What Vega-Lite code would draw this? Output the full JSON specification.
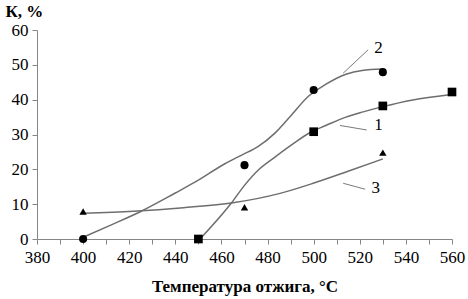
{
  "$schema": "https://vega.github.io/schema/vega-lite/v6.json",
  "width": 415,
  "height": 209,
  "autosize": "none",
  "padding": {"left": 37, "top": 30, "right": 16, "bottom": 60},
  "background": "white",
  "config": {
    "view": {"stroke": null},
    "font": "Liberation Serif",
    "axis": {"labelFont": "Liberation Serif", "titleFont": "Liberation Serif"},
    "text": {"font": "Liberation Serif"}
  },
  "datasets": {
    "points": [
      {"series": "1", "x": 450, "y": 0},
      {"series": "1", "x": 500, "y": 30.8},
      {"series": "1", "x": 530, "y": 38.2},
      {"series": "1", "x": 560, "y": 42.2},
      {"series": "2", "x": 400, "y": 0},
      {"series": "2", "x": 470, "y": 21.2},
      {"series": "2", "x": 500, "y": 42.8},
      {"series": "2", "x": 530, "y": 47.9},
      {"series": "3", "x": 400, "y": 7.9},
      {"series": "3", "x": 470, "y": 9.1},
      {"series": "3", "x": 530, "y": 24.8}
    ],
    "curves": [
      {"series": "1", "x": 451.4, "y": 0.5},
      {"series": "1", "x": 464.4, "y": 10.4},
      {"series": "1", "x": 470, "y": 15.4},
      {"series": "1", "x": 476, "y": 19.8},
      {"series": "1", "x": 483.2, "y": 23.5},
      {"series": "1", "x": 490.4, "y": 27},
      {"series": "1", "x": 499, "y": 30.8},
      {"series": "1", "x": 505, "y": 32.5},
      {"series": "1", "x": 514, "y": 35},
      {"series": "1", "x": 521.5, "y": 36.5},
      {"series": "1", "x": 530, "y": 38},
      {"series": "1", "x": 543, "y": 39.9},
      {"series": "1", "x": 559, "y": 41.4},
      {"series": "2", "x": 400, "y": 0.5},
      {"series": "2", "x": 412, "y": 4},
      {"series": "2", "x": 425, "y": 7.9},
      {"series": "2", "x": 440, "y": 13.2},
      {"series": "2", "x": 448.5, "y": 16.3},
      {"series": "2", "x": 461.5, "y": 21.6},
      {"series": "2", "x": 468.8, "y": 24.1},
      {"series": "2", "x": 476, "y": 26.6},
      {"series": "2", "x": 483.2, "y": 30.4},
      {"series": "2", "x": 490.4, "y": 35.6},
      {"series": "2", "x": 497.6, "y": 40.9},
      {"series": "2", "x": 505, "y": 44.3},
      {"series": "2", "x": 514, "y": 47.3},
      {"series": "2", "x": 521, "y": 48.4},
      {"series": "2", "x": 530, "y": 48.8},
      {"series": "3", "x": 400, "y": 7.4},
      {"series": "3", "x": 421.8, "y": 8},
      {"series": "3", "x": 443.5, "y": 9},
      {"series": "3", "x": 465, "y": 10.4},
      {"series": "3", "x": 485.4, "y": 13.1},
      {"series": "3", "x": 499.8, "y": 16},
      {"series": "3", "x": 514.3, "y": 19.3},
      {"series": "3", "x": 530, "y": 23}
    ],
    "leaders": [
      {"series": "1", "x": 511.4, "y": 32.6, "x2": 523, "y2": 31.3},
      {"series": "2", "x": 512.8, "y": 47.6, "x2": 523.6, "y2": 54.3},
      {"series": "3", "x": 512.8, "y": 16.0, "x2": 522.3, "y2": 14.3}
    ],
    "labels": [
      {"label": "1", "x": 528.1, "y": 32.8},
      {"label": "2", "x": 528.1, "y": 54.8},
      {"label": "3", "x": 526.9, "y": 14.6}
    ]
  },
  "encoding": {
    "x": {
      "field": "x",
      "type": "quantitative",
      "scale": {"domain": [380, 560], "nice": false, "zero": false},
      "axis": {
        "values": [380, 390, 400, 410, 420, 430, 440, 450, 460, 470, 480, 490, 500, 510, 520, 530, 540, 550, 560],
        "labelExpr": "datum.value % 20 === 0 ? datum.label : ''",
        "grid": false,
        "domainColor": "#868686",
        "tickColor": "#868686",
        "tickSize": 5,
        "labelFont": "Liberation Serif",
        "labelFontSize": 17,
        "labelColor": "black",
        "labelPadding": 5,
        "labelFlush": false,
        "labelOverlap": false,
        "title": "Температура отжига, °С",
        "titleFont": "Liberation Serif",
        "titleFontSize": 17,
        "titleFontWeight": "bold",
        "titleColor": "black",
        "titlePadding": 13
      }
    },
    "y": {
      "field": "y",
      "type": "quantitative",
      "scale": {"domain": [0, 60], "nice": false},
      "axis": {
        "values": [0, 10, 20, 30, 40, 50, 60],
        "grid": false,
        "domainColor": "#868686",
        "tickColor": "#868686",
        "tickSize": 5,
        "labelFont": "Liberation Serif",
        "labelFontSize": 17,
        "labelColor": "black",
        "labelPadding": 4,
        "labelFlush": false,
        "title": "К, %",
        "titleFont": "Liberation Serif",
        "titleFontSize": 17,
        "titleFontWeight": "bold",
        "titleColor": "black",
        "titleAngle": 0,
        "titleAlign": "left",
        "titleBaseline": "middle",
        "titleX": -32,
        "titleY": -19
      }
    }
  },
  "layer": [
    {
      "data": {"name": "curves"},
      "mark": {"type": "line", "interpolate": "monotone", "color": "#6e6e6e", "strokeWidth": 1.5},
      "encoding": {"detail": {"field": "series", "type": "nominal"}}
    },
    {
      "data": {"name": "leaders"},
      "mark": {"type": "rule", "color": "#7a7a7a", "strokeWidth": 1},
      "encoding": {
        "x2": {"field": "x2"},
        "y2": {"field": "y2"}
      }
    },
    {
      "data": {"name": "labels"},
      "mark": {"type": "text", "font": "Liberation Serif", "fontSize": 17, "color": "black", "align": "center", "baseline": "middle"},
      "encoding": {"text": {"field": "label", "type": "nominal"}}
    },
    {
      "data": {"name": "points"},
      "mark": {"type": "point", "filled": true, "color": "black", "opacity": 1},
      "encoding": {
        "shape": {
          "field": "series",
          "type": "nominal",
          "scale": {"domain": ["1", "2", "3"], "range": ["square", "circle", "triangle-up"]},
          "legend": null
        },
        "size": {
          "field": "series",
          "type": "nominal",
          "scale": {"domain": ["1", "2", "3"], "range": [75, 55, 45]},
          "legend": null
        }
      }
    }
  ]
}
